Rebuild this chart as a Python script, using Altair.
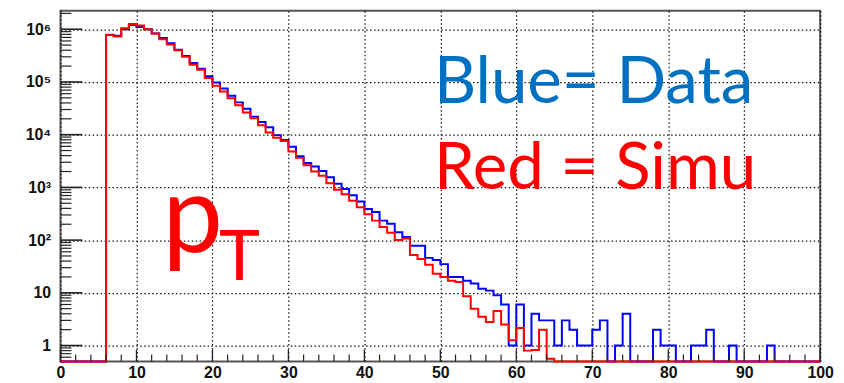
import altair as alt
import pandas as pd

# ---------------- data ----------------
first_bin = 6          # first filled bin (bin width = 1 GeV)
n_bins = 100
blue_data = [780000, 750000, 1000000, 1200000, 1100000, 1000000, 830000, 680000,
             540000, 410000, 310000, 230000, 178000, 129000, 98000, 75000, 55000,
             41000, 31000, 22000, 17400, 13800, 9800, 7900, 5900, 3900, 2900, 2500,
             2040, 1550, 1175, 930, 710, 540, 390, 340, 234, 204, 141, 115, 78, 78,
             46, 42, 35, 20, 20, 17, 15, 12, 11, 9, 6, 1, 6, 1, 4, 3, 3, 1, 3, 2, 1,
             1, 2, 3, 0, 1, 4, 0, 0, 0, 2, 1, 1, 0, 0, 1, 1, 2, 0, 0, 1, 0, 0, 0, 0,
             1]
red_simu = [785000, 730000, 1050000, 1260000, 1175000, 1000000, 830000, 645000,
            513000, 398000, 300000, 211000, 170000, 119000, 85000, 66000, 49000,
            36300, 26300, 20400, 15100, 11000, 8700, 7600, 4800, 3630, 2630, 2000,
            1660, 1200, 900, 740, 560, 420, 310, 234, 178, 138, 100, 107, 52, 44,
            34, 23, 20, 17, 16, 8.6, 5.0, 3.5, 2.8, 4.5, 2.5, 1.26, 2.15, 0.8, 0.82,
            2.0, 0.56]

x_major = list(range(0, 101, 10))
x_minor = [v for v in range(0, 101, 2) if v % 10 != 0]
y_major = [1, 10, 100, 1000, 10000, 100000, 1000000]
y_minor = [m * 10 ** k for k in range(-1, 7) for m in range(2, 10)
           if 0.5 < m * 10 ** k < 2.24e6]
y_min, y_max = 0.5, 2.24e6

# ---------------- build step tables ----------------
def steps(values, name):
    full = [0] * first_bin + list(values)
    full = full + [0] * (n_bins - len(full))
    rows = [{"x": i, "v": max(full[i], y_min), "s": name} for i in range(n_bins)]
    rows.append({"x": n_bins, "v": max(full[-1], y_min), "s": name})
    return pd.DataFrame(rows)

blue_df = steps(blue_data, "Data")
red_df = steps(red_simu, "Simu")

W, H = 767, 354
xs = alt.Scale(domain=[0, 100], nice=False, zero=False)
ys = alt.Scale(type="log", domain=[y_min, y_max], nice=False, zero=False)

label_font = "Liberation Sans"
x_axis = alt.Axis(values=x_major, grid=True, gridDash=[1.5, 2.5], gridColor="#111",
                  gridWidth=1.2, ticks=False, domain=False, labelFont=label_font,
                  labelFontWeight="bold", labelFontSize=16, labelColor="#111",
                  labelPadding=3, title=None, labelFlush=False)
y_axis = alt.Axis(values=y_major, grid=True, gridDash=[1.5, 2.5], gridColor="#111",
                  gridWidth=1.2, ticks=False, domain=False, labelFont=label_font,
                  labelFontWeight="bold", labelFontSize=16, labelColor="#111",
                  labelPadding=10, title=None,
                  labelExpr="datum.value < 50 ? format(datum.value, 'd') : '10' + ['⁰','¹','²','³','⁴','⁵','⁶'][round(log(datum.value)/LN10)]")

X = alt.X("x:Q", scale=xs, axis=x_axis)
Y = alt.Y("v:Q", scale=ys, axis=y_axis)

blue = alt.Chart(blue_df).mark_line(interpolate="step-after", color="#0000ff",
                                    strokeWidth=2).encode(x=X, y=Y)
red = alt.Chart(red_df).mark_line(interpolate="step-after", color="#ff0000",
                                  strokeWidth=2).encode(x=X, y=Y)

tick_col = "#222"
xmaj = alt.Chart(pd.DataFrame({"x": x_major})).mark_rule(color=tick_col, strokeWidth=1.3).encode(
    x=X, y=alt.value(H), y2=alt.value(H - 12))
xmin = alt.Chart(pd.DataFrame({"x": x_minor})).mark_rule(color=tick_col, strokeWidth=1.2).encode(
    x=X, y=alt.value(H), y2=alt.value(H - 7))
ymaj = alt.Chart(pd.DataFrame({"v": y_major})).mark_rule(color=tick_col, strokeWidth=1.6).encode(
    y=Y, x=alt.value(0), x2=alt.value(22))
ymin_r = alt.Chart(pd.DataFrame({"v": y_minor})).mark_rule(color=tick_col, strokeWidth=1.2).encode(
    y=Y, x=alt.value(0), x2=alt.value(11))

txt_font = "Lato"
t_blue = alt.Chart(pd.DataFrame({"a": [0]})).mark_text(
    text="Blue= Data", font=txt_font, fontSize=66, color="#0070c0", align="left",
    baseline="alphabetic").encode(x=alt.value(377), y=alt.value(93))
t_red = alt.Chart(pd.DataFrame({"a": [0]})).mark_text(
    text="Red = Simu", font=txt_font, fontSize=66, color="#ff0000", align="left",
    baseline="alphabetic").encode(x=alt.value(377), y=alt.value(180))
t_p = alt.Chart(pd.DataFrame({"a": [0]})).mark_text(
    text="p", font=txt_font, fontSize=109, color="#ff0000", align="left",
    baseline="alphabetic").encode(x=alt.value(103), y=alt.value(244))
t_T = alt.Chart(pd.DataFrame({"a": [0]})).mark_text(
    text="T", font=txt_font, fontSize=70, color="#ff0000", align="left",
    baseline="alphabetic").encode(x=alt.value(160), y=alt.value(272))

chart = alt.layer(blue, red, xmaj, xmin, ymaj, ymin_r, t_blue, t_red, t_p, t_T).properties(
    width=W, height=H,
    autosize=alt.AutoSizeParams(type="none"),
    padding={"left": 53, "top": 1, "right": 16, "bottom": 19},
    background="white",
).configure_view(stroke="#555", strokeWidth=2)

chart.save("out.html", embed_options={"renderer": "svg", "actions": False})
